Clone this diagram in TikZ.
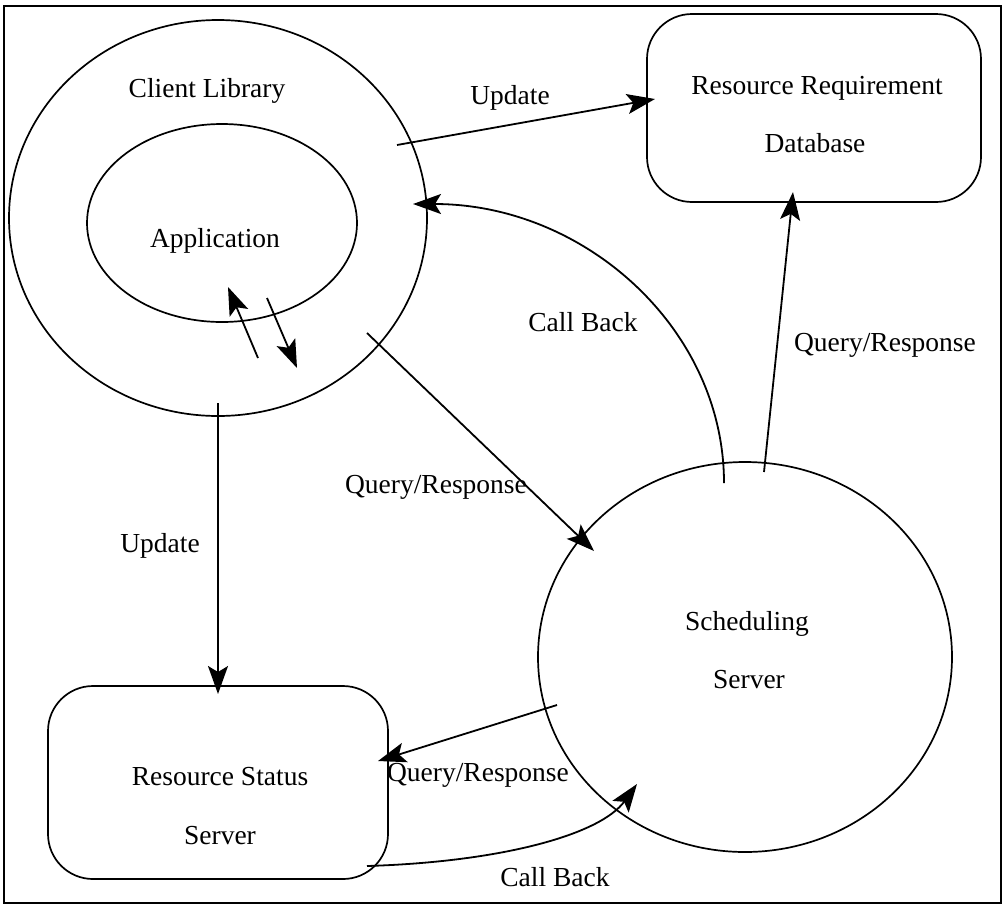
\documentclass[tikz,border=0pt]{standalone}
\usepackage{fontspec}
\setmainfont{Liberation Serif}
\usetikzlibrary{shapes.geometric,arrows.meta}
\begin{document}
\begin{tikzpicture}[x=1pt,y=-1pt,
  every node/.style={font=\fontsize{27.5}{33}\selectfont},
  shapeline/.style={draw,line width=1.7pt},
  oval/.style={shapeline,ellipse,inner sep=0pt},
  rbox/.style={shapeline,rectangle,rounded corners=45pt,inner sep=0pt},
  lbl/.style={inner sep=0pt},
  conn/.style={line width=1.8pt,-{Stealth[length=28pt,width=20pt,inset=6pt]}},
  framebox/.style={line width=2.2pt}]
\useasboundingbox (0,0) rectangle (1004,906);
\draw[framebox] (4,6) rectangle (1001,903);

% shapes
\node[oval,minimum width=418pt,minimum height=396pt] (lib) at (218,218) {};
\node[oval,minimum width=270pt,minimum height=198pt] (app) at (222,223) {};
\node[oval,minimum width=414pt,minimum height=390pt] (sched) at (745,657) {};
\node[rbox,minimum width=334pt,minimum height=188pt] (rrd) at (814,108) {};
\node[rbox,minimum width=340pt,minimum height=193pt] (rss) at (218,782.5) {};

% texts inside shapes
\node[lbl] (libtxt) at (207,91) {Client Library};
\node[lbl] (apptxt) at (215,241) {Application};
\node[lbl] (schedtxtA) at (747,624) {Scheduling};
\node[lbl] (schedtxtB) at (749,680) {Server};
\node[lbl] (rrdtxtA) at (817,88) {Resource Requirement};
\node[lbl] (rrdtxtB) at (815,143) {Database};
\node[lbl] (rsstxtA) at (220,777) {Resource Status};
\node[lbl] (rsstxtB) at (220,836) {Server};

% connector labels
\node[lbl] (l1) at (510,98) {Update};
\node[lbl] (l2) at (583,322) {Call Back};
\node[lbl] (l3) at (885,345) {Query/Response};
\node[lbl] (l4) at (436,487) {Query/Response};
\node[lbl] (l5) at (160,546) {Update};
\node[lbl] (l6) at (478,775) {Query/Response};
\node[lbl] (l7) at (555,877) {Call Back};

% connector end points
\coordinate (uAs) at (397,145); \coordinate (uAe) at (655,99);
\coordinate (cAs) at (724,483); \coordinate (cAe) at (413,204);
\coordinate (qAs) at (764,472); \coordinate (qAe) at (793,192);
\coordinate (qBs) at (367,333); \coordinate (qBe) at (594,551);
\coordinate (uBs) at (218,403); \coordinate (uBe) at (218,694);
\coordinate (qCs) at (557,705); \coordinate (qCe) at (378,761);
\coordinate (cBs) at (367,866); \coordinate (cBe) at (637,784);
\coordinate (aUs) at (258,358); \coordinate (aUe) at (228,287);
\coordinate (aDs) at (267,298); \coordinate (aDe) at (297,368);

% connectors
\draw[conn] (uAs) -- (uAe);
\draw[conn] (cAs) .. controls (724,329) and (585,204) .. (cAe);
\draw[conn] (qAs) -- (qAe);
\draw[conn] (qBs) -- (qBe);
\draw[conn] (uBs) -- (uBe);
\draw[conn] (qCs) -- (qCe);
\draw[conn] (cBs) .. controls (500,862) and (600,835) .. (cBe);
\draw[conn] (aUs) -- (aUe);
\draw[conn] (aDs) -- (aDe);
\end{tikzpicture}
\end{document}
